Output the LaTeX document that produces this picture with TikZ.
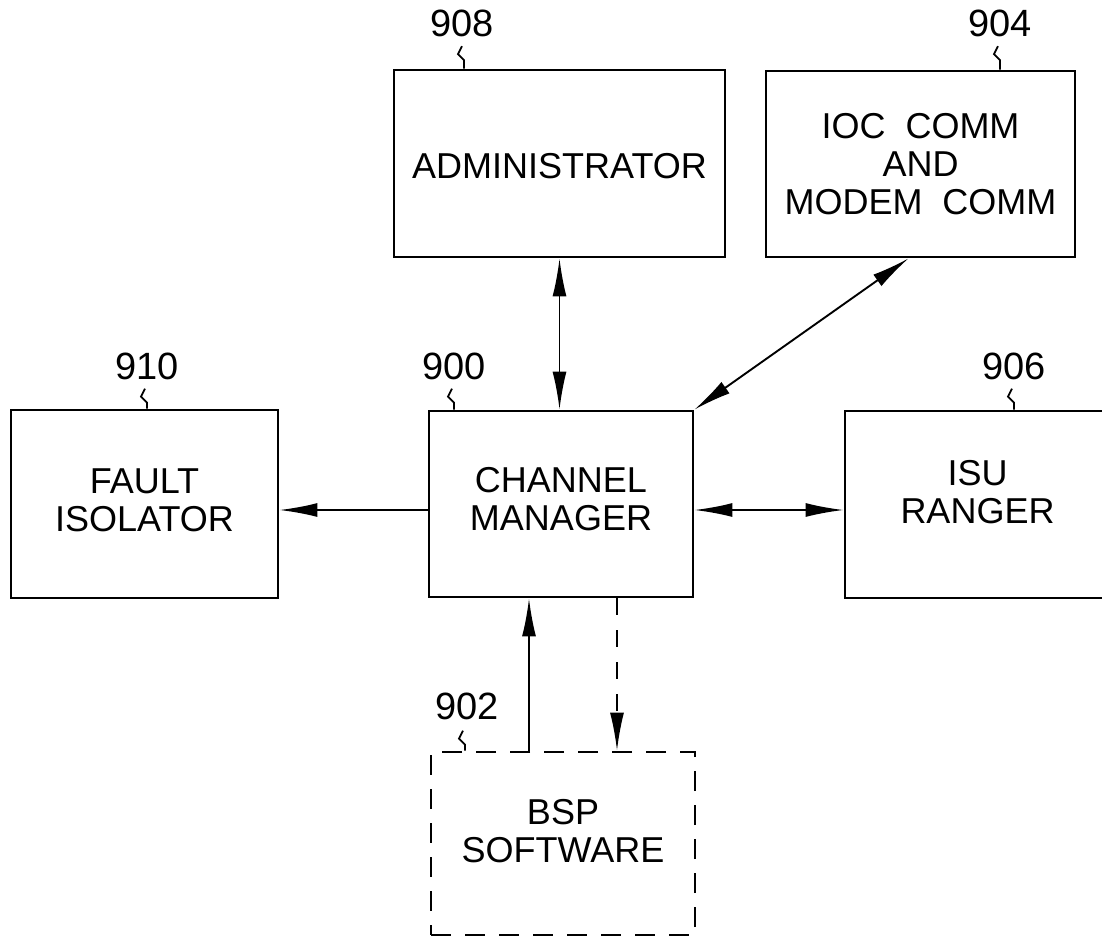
\documentclass[tikz,border=0pt]{standalone}
\usepackage{fontspec}
\setmainfont{Liberation Sans}
\usetikzlibrary{arrows.meta}
\tikzset{
  box/.style={draw, line width=2.8pt, inner sep=0pt},
  dbox/.style={box, dash pattern=on 20pt off 14pt},
  txt/.style={align=center, inner sep=0pt, font=\fontsize{36pt}{38pt}\selectfont},
  num/.style={inner sep=0pt, font=\fontsize{38pt}{40pt}\selectfont},
  conn/.style={line width=1.9pt},
  tip/.style={-{Latex[length=38pt,width=14pt]}},
  tips/.style={{Latex[length=38pt,width=14pt]}-{Latex[length=38pt,width=14pt]}},
  leadline/.style={line width=1.8pt, to path={-- ++(-4,8) -- ++(6,6) -- (\tikztotarget)}}
}
\begin{document}
\begin{tikzpicture}[x=1pt,y=-1pt]
\useasboundingbox (0,0) rectangle (1102,943);
% boxes
\node[box, minimum width=331pt, minimum height=187pt] (adm) at (559.5,163.5) {};
\node[box, minimum width=309pt, minimum height=186pt] (ioc) at (920.5,164) {};
\node[box, minimum width=267pt, minimum height=188pt] (fault) at (144.5,504) {};
\node[box, minimum width=264pt, minimum height=186pt] (cm) at (561,504) {};
\node[box, minimum width=265pt, minimum height=187pt] (isu) at (977.5,504.5) {};
\node[dbox, minimum width=264pt, minimum height=183pt] (bsp) at (563,843.5) {};
% box texts
\node[txt] (tadm) at ([yshift=-3pt]adm.center) {ADMINISTRATOR};
\node[txt] (tioc) at (ioc.center) {IOC\ \ COMM\\AND\\MODEM\ \ COMM};
\node[txt] (tfault) at ([yshift=4pt]fault.center) {FAULT\\ISOLATOR};
\node[txt] (tcm) at ([yshift=5pt]cm.center) {CHANNEL\\MANAGER};
\node[txt] (tisu) at ([yshift=12pt]isu.center) {ISU\\RANGER};
\node[txt] (tbsp) at ([yshift=12pt]bsp.center) {BSP\\SOFTWARE};
% reference numbers
\node[num] (l908) at (462,23.5) {908};
\node[num] (l904) at (1000,23.5) {904};
\node[num] (l910) at (147,366) {910};
\node[num] (l900) at (454,366) {900};
\node[num] (l906) at (1014,366) {906};
\node[num] (l902) at (467,706) {902};
% leader squiggles
\draw[leadline] ([yshift=-9pt]l908.south) to ([xshift=2pt]l908.south |- adm.north);
\draw[leadline] ([yshift=-9pt,xshift=-2pt]l904.south) to (l904.south |- ioc.north);
\draw[leadline] ([yshift=-9pt,xshift=-2pt]l910.south) to (l910.south |- fault.north);
\draw[leadline] ([yshift=-9pt,xshift=-2pt]l900.south) to (l900.south |- cm.north);
\draw[leadline] ([yshift=-9pt,xshift=-2pt]l906.south) to (l906.south |- isu.north);
\draw[leadline] ([yshift=-11pt,xshift=-4pt]l902.south) to ([xshift=-2pt]l902.south |- bsp.north);
% connectors
\draw[conn,tips] (adm.south) -- (adm.south |- cm.north);
\draw[conn,tips] ([xshift=-12pt]ioc.south) -- (cm.north east);
\draw[conn,tip] ([yshift=-6pt]cm.west) -- ([yshift=-6pt]cm.west -| fault.east);
\draw[conn,tips] ([yshift=-6pt]cm.east) -- ([yshift=-6pt]cm.east -| isu.west);
\draw[conn,tip] ([xshift=-34pt]bsp.north) -- ([xshift=-34pt]bsp.north |- cm.south);
\draw[conn,tip,dash pattern=on 17pt off 15pt] ([xshift=54pt]bsp.north |- cm.south) -- ([xshift=54pt]bsp.north);
\end{tikzpicture}
\end{document}
